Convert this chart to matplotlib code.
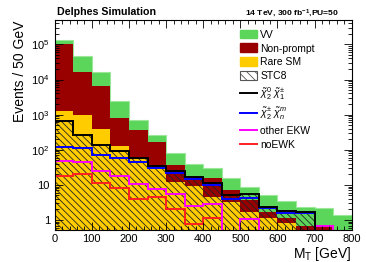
import matplotlib

matplotlib.use("Agg")
import numpy as np
from matplotlib import pyplot as plt
from matplotlib.lines import Line2D
from matplotlib.patches import Patch
from matplotlib.ticker import FixedLocator, FuncFormatter, LogLocator, NullFormatter

plt.rcParams["font.family"] = ["Liberation Sans", "DejaVu Sans"]
plt.rcParams["mathtext.fontset"] = "custom"
plt.rcParams["mathtext.rm"] = "Liberation Sans"
plt.rcParams["mathtext.it"] = "Liberation Sans:italic"
plt.rcParams["mathtext.bf"] = "Liberation Sans:bold"
plt.rcParams["hatch.linewidth"] = 0.6

# M_T bins, 50 GeV wide
edges = np.arange(0, 850, 50)

# backgrounds (per-process yields, stacked: rare SM, non-prompt, VV)
rare_sm = np.array([1270, 995, 385, 126, 55, 30, 12.2, 9.2, 4.5, 3.2, 1.72, 1.16, 0.82, 0.3, 0.3, 0.2])
non_prompt = np.array([98700, 15000, 6000, 690, 307, 134, 25.8, 7.8, 11.5, 3.9, 2.0, 0.53, 0.3, 0.375, 0.4, 0.2])
vv = np.array([30000, 31000, 10100, 1630, 365, 102, 40.5, 22, 13.4, 8.2, 5.2, 3.6, 2.47, 1.7, 1.45, 1.0])

# signal STC8 and its components
stc8 = np.array([661, 260, 133, 91, 56.6, 34, 24.6, 17, 11.3, 5.1, 5.4, 2.4, 1.8, 1.69, 0, 0])
chi20_chi1 = np.array([661, 260, 133, 91, 56.6, 34, 24.6, 17, 11.3, 5.1, 5.4, 2.4, 1.8, 1.69, 0, 0])
chi2_chin = np.array([121, 116, 72.6, 59.7, 46, 29.4, 21.6, 15.1, 9.9, 3.95, 4.3, 2.15, 1.61, 1.58, 0, 0])
other_ekw = np.array([47.4, 44.4, 25.2, 18.2, 10.5, 7.9, 5.5, 2.5, 2.8, 0, 1.05, 0, 0, 0, 0.68, 0])
no_ewk = np.array([18.4, 20.3, 11.6, 7.95, 4.0, 4.65, 2.12, 0.77, 1.14, 0, 0, 0, 0, 0, 0, 0])

x_ticks = [0, 100, 200, 300, 400, 500, 600, 700, 800]
y_ticks = [1, 10, 100, 1e3, 1e4, 1e5]

green = "#5bd65b"
dark_red = "#990000"
yellow = "#ffcc00"

fig = plt.figure(figsize=(3.66, 2.62), dpi=100)
ax = fig.add_axes([0.1495, 0.122, 0.8115, 0.800])

floor = 1e-3
cum_np = rare_sm + non_prompt
cum_vv = cum_np + vv
ax.stairs(cum_vv, edges, baseline=floor, fill=True, facecolor=green, edgecolor="#9be89b", lw=0.8)
ax.stairs(cum_np, edges, baseline=floor, fill=True, facecolor=dark_red, lw=0)
ax.stairs(rare_sm, edges, baseline=floor, fill=True, facecolor=yellow, lw=0)
ax.stairs(stc8, edges, baseline=floor, fill=True, facecolor="none", edgecolor="#222222",
          hatch="\\\\\\\\\\", lw=0)

ax.stairs(no_ewk, edges, baseline=None, color="#ff2020", lw=1.4)
ax.stairs(other_ekw, edges, baseline=None, color="#ff00ff", lw=1.4)
ax.stairs(chi2_chin, edges, baseline=None, color="#0000ff", lw=1.4)
ax.stairs(chi20_chi1, edges, baseline=None, color="black", lw=1.4)

ax.set_yscale("log")
ax.set_xlim(0, 800)
ax.set_ylim(0.52, 4.8e5)

ax.xaxis.set_major_locator(FixedLocator(x_ticks))
ax.xaxis.set_minor_locator(FixedLocator(np.arange(0, 801, 20)))
ax.yaxis.set_major_locator(FixedLocator(y_ticks))
ax.yaxis.set_minor_locator(LogLocator(base=10, subs=np.arange(2, 10)))
ax.yaxis.set_minor_formatter(NullFormatter())


def _log_label(value, _pos):
    if value < 50:
        return f"{value:g}"
    return f"$10^{{{int(round(np.log10(value)))}}}$"


ax.yaxis.set_major_formatter(FuncFormatter(_log_label))
ax.tick_params(which="both", direction="in", top=True, right=True, labelsize=8, width=0.6)
ax.tick_params(which="major", length=6)
ax.tick_params(which="minor", length=3)
ax.tick_params(axis="x", pad=3)
for spine in ax.spines.values():
    spine.set_linewidth(0.8)

ax.set_ylabel("Events / 50 GeV", fontsize=10, ha="right", y=1.0)
ax.yaxis.set_label_coords(-0.092, 1.0)
ax.set_xlabel("M$_\\mathregular{T}$ [GeV]", fontsize=10, ha="right", x=1.0)
ax.xaxis.set_label_coords(1.0, -0.07)

fig.text(57 / 366, 1 - 12 / 262, "Delphes Simulation", fontsize=7.7, fontweight="bold", va="center")
fig.text(339 / 366, 1 - 13 / 262, "14 TeV, 300 fb$^{\\mathbf{-1}}$,PU=50", fontsize=6.1,
         fontweight="bold", va="center", ha="right")

handles = [
    Patch(facecolor=green, edgecolor=green),
    Patch(facecolor=dark_red, edgecolor=dark_red),
    Patch(facecolor=yellow, edgecolor=yellow),
    Patch(facecolor="white", edgecolor="#555555", hatch="\\\\\\\\", lw=0.8),
    Line2D([], [], color="black", lw=1.4),
    Line2D([], [], color="#0000ff", lw=1.4),
    Line2D([], [], color="#ff00ff", lw=1.4),
    Line2D([], [], color="#ff2020", lw=1.4),
]
labels = [
    "VV",
    "Non-prompt",
    "Rare SM",
    "STC8",
    "$\\tilde{\\chi}_2^0\\ \\tilde{\\chi}_1^{\\pm}$",
    "$\\tilde{\\chi}_2^{\\pm}\\ \\tilde{\\chi}_n^{m}$",
    "other EKW",
    "noEWK",
]
fig.legend(handles, labels, loc="upper left", bbox_to_anchor=(240 / 366, 1 - 29.5 / 262),
           frameon=False, fontsize=7.5, borderpad=0, borderaxespad=0, handlelength=1.6,
           handleheight=0.95, handletextpad=0.35, labelspacing=0.37)

fig.savefig("out.png", dpi=100)
